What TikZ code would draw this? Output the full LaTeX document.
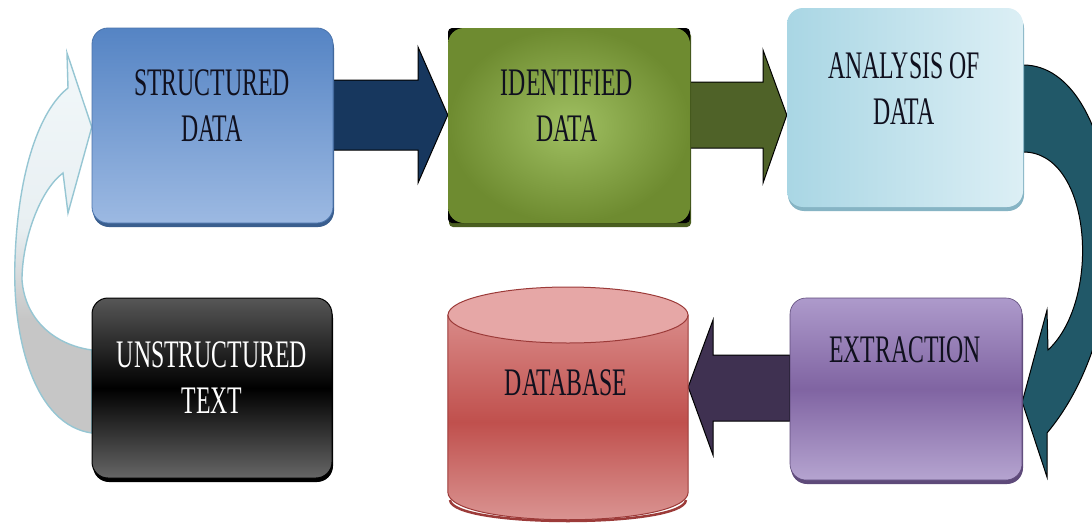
\documentclass[tikz,border=0pt]{standalone}
\usepackage{fontspec}
\newfontfamily\boxfont[FakeStretch=0.61]{Liberation Serif}
\usetikzlibrary{shadows,calc}
\definecolor{sdtop}{HTML}{5584C4}
\definecolor{sdbot}{HTML}{9CB9E2}
\definecolor{sdedge}{HTML}{4A74AC}
\definecolor{sdshadow}{HTML}{3A5E8E}
\definecolor{idouter}{HTML}{6E8B30}
\definecolor{idinner}{HTML}{A0C062}
\definecolor{idshadow}{HTML}{4A5E20}
\definecolor{anleft}{HTML}{A9D6E4}
\definecolor{anright}{HTML}{DCEFF5}
\definecolor{anshadow}{HTML}{86B4C4}
\definecolor{extop}{HTML}{AD9ACB}
\definecolor{exmid}{HTML}{8064A2}
\definecolor{exbot}{HTML}{B5A4D0}
\definecolor{exshadow}{HTML}{5E4A7A}
\definecolor{uttop}{HTML}{575757}
\definecolor{utbot}{HTML}{666666}
\definecolor{dbtop}{HTML}{D98A88}
\definecolor{dbmid}{HTML}{C0504D}
\definecolor{dbbot}{HTML}{DC9A98}
\definecolor{dbcap}{HTML}{E6A7A6}
\definecolor{dbedge}{HTML}{9C3B39}
\definecolor{navyarrow}{HTML}{17375E}
\definecolor{greenarrow}{HTML}{4F6228}
\definecolor{purplearrow}{HTML}{3F3151}
\definecolor{tealarrow}{HTML}{215868}
\definecolor{txt}{HTML}{10101E}
\definecolor{lightedge}{HTML}{96C6D3}
\definecolor{lighttop}{HTML}{F2F8FA}
\definecolor{lightmid}{HTML}{E8EFF2}
\definecolor{lightbot}{HTML}{C6C6C6}
\pgfdeclareverticalshading{leftarrowshade}{100bp}{color(0bp)=(lightbot); color(25bp)=(lightbot); color(40bp)=(lightbot); color(52bp)=(lightmid); color(75bp)=(lighttop); color(100bp)=(lighttop)}
\begin{document}
\begin{tikzpicture}[x=1pt,y=-1pt,
  box/.style={rounded corners=16pt, inner sep=0pt},
  lbl/.style={font={\boxfont\fontsize{39}{46}\selectfont}, align=center, inner sep=0pt, text=txt},
  blockarrow/.style={draw=black, line width=1pt, line join=miter}]
\useasboundingbox (0,0) rectangle (1092,522);
\fill[white] (0,0) rectangle (1092,522);
\begin{scope}
\clip (0,0) rectangle (1092,522);

% named boxes (geometry only first, for anchors)
\path (212.5,125.5) node[minimum width=241pt, minimum height=195pt] (sd) {};
\path (569,125.5) node[minimum width=242pt, minimum height=195pt] (id) {};
\path (905,107.5) node[minimum width=236pt, minimum height=199pt] (an) {};
\path (906,389) node[minimum width=232pt, minimum height=182pt] (ex) {};
\path (212,388) node[minimum width=240pt, minimum height=180pt] (ut) {};
\path (568,403.5) node[minimum width=240pt, minimum height=233pt] (db) {};

% left curved arrow (unstructured -> structured)
\shade[shading=leftarrowshade, draw=lightedge, line width=1.4pt]
  (ut.west |- 0,433) .. controls (35,425) and (12,340) .. (15,260)
  .. controls (18,170) and (40,110) .. (68,88) -- (67,53) -- (sd.west |- 0,127) -- (68,213) -- (63,173)
  .. controls (40,190) and (22,240) .. (22,280)
  .. controls (25,320) and (55,345) .. (ut.west |- 0,350) -- cycle;

% teal curved arrow (analysis -> extraction)
\draw[blockarrow, fill=tealarrow]
  (an.east |- 0,65) .. controls (1120,65) and (1150,310) .. (1047,433) -- (1047,477) -- (ex.east |- 0,402)
  -- (1047,310) -- (1048,350) .. controls (1102,300) and (1092,152) .. (an.east |- 0,152) -- cycle;

% straight block arrows
\draw[blockarrow, fill=navyarrow] (sd.east |- 0,80) -- (418,80) -- (418,47) -- (id.west |- 0,115)
  -- (418,183) -- (418,150) -- (sd.east |- 0,150) -- cycle;
\draw[blockarrow, fill=greenarrow] (id.east |- 0,82) -- (763,82) -- (763,50) -- (an.west |- 0,115)
  -- (763,183) -- (763,148) -- (id.east |- 0,148) -- cycle;
\draw[blockarrow, fill=purplearrow] (ex.west |- 0,355) -- (713,355) -- (713,320) -- (db.east |- 0,387)
  -- (713,455) -- (713,421) -- (ex.west |- 0,421) -- cycle;

% boxes
\path (sd.center) node[box, minimum width=241pt, minimum height=195pt, draw=sdedge, line width=0.8pt,
  top color=sdtop, bottom color=sdbot,
  drop shadow={shadow xshift=1pt, shadow yshift=-4pt, fill=sdshadow, opacity=1}] {};
\path (id.center) node[minimum width=242pt, minimum height=195pt, rounded corners=4pt, fill=black, inner sep=0pt,
  drop shadow={shadow xshift=1pt, shadow yshift=-4pt, fill=idshadow, opacity=1}] {};
\path (id.center) node[box, minimum width=242pt, minimum height=195pt, inner color=idinner, outer color=idouter] {};
\path (an.center) node[box, minimum width=236pt, minimum height=199pt, left color=anleft, right color=anright,
  drop shadow={shadow xshift=1pt, shadow yshift=-4pt, fill=anshadow, opacity=1}] {};
\path (ex.center) node[box, minimum width=232pt, minimum height=182pt, draw=exshadow, line width=0.6pt,
  top color=extop, bottom color=exbot, middle color=exmid,
  drop shadow={shadow xshift=1pt, shadow yshift=-4pt, fill=exshadow, opacity=1}] {};
\path (ut.center) node[box, minimum width=240pt, minimum height=180pt, draw=black, line width=1pt,
  top color=uttop, bottom color=utbot, middle color=black,
  drop shadow={shadow xshift=1pt, shadow yshift=-4pt, fill=black, opacity=1}] {};

% database cylinder
\shade[top color=dbtop, bottom color=dbbot, middle color=dbmid, draw=dbedge, line width=1pt]
  (db.west |- 0,315) -- (db.west |- 0,492) .. controls (448,529) and (688,529) .. (db.east |- 0,492)
  -- (db.east |- 0,315) -- cycle;
\draw[dbedge, line width=2.5pt] (450,500) .. controls (452,528) and (684,528) .. (686,500);
\draw[fill=dbcap, draw=dbedge, line width=1pt] (568,315) ellipse [x radius=120, y radius=28];

% labels
\node[lbl] (sdt) at (212,105.5) {STRUCTURED\\DATA};
\node[lbl] (idt) at (567,106) {IDENTIFIED\\DATA};
\node[lbl] (ant) at (904,88.5) {ANALYSIS OF\\DATA};
\node[lbl] (ext) at (905,350) {EXTRACTION};
\node[lbl, text=white] (utt) at (212,378) {UNSTRUCTURED\\TEXT};
\node[lbl] (dbt) at (566,383) {DATABASE};
\end{scope}
\end{tikzpicture}
\end{document}
